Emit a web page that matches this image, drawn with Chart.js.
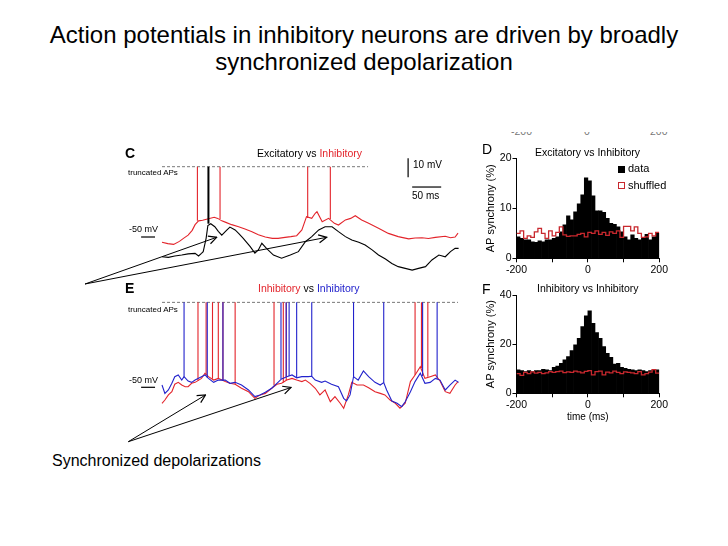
<!DOCTYPE html>
<html>
<head>
<meta charset="utf-8">
<title>Action potentials in inhibitory neurons</title>
<script src="https://cdn.jsdelivr.net/npm/chart.js"></script>
<style>
  body { margin: 0; background: #fff; font-family: "Liberation Sans", Arial, sans-serif; }
  #page { position: relative; width: 728px; height: 546px; overflow: hidden; background: #fff; }
  canvas { position: absolute; }
  .t { position: absolute; white-space: nowrap; line-height: 1; color: #000; }
  .red { color: #e3242b; }
  .blue { color: #2222cc; }
</style>
</head>
<body>
<div id="page">
  <div class="t" style="left:0;width:728px;text-align:center;top:23px;font-size:24px">Action potentials in inhibitory neurons are driven by broadly</div>
  <div class="t" style="left:0;width:728px;text-align:center;top:50px;font-size:24px">synchronized depolarization</div>

  <!-- panel C -->
  <canvas id="chartC" width="337" height="134" style="left:127px;top:151px"></canvas>
  <div class="t" style="left:125px;top:146px;font-size:14px;font-weight:bold">C</div>
  <div class="t" style="left:257px;top:148px;font-size:10.5px">Excitatory vs <span class="red">Inhibitory</span></div>
  <div class="t" style="left:128px;top:169px;font-size:8px">truncated APs</div>
  <div class="t" style="left:413px;top:160px;font-size:10px">10 mV</div>
  <div class="t" style="left:412px;top:191px;font-size:10px">50 ms</div>
  <div class="t" style="left:129px;top:225px;font-size:9px">-50 mV</div>

  <!-- panel E -->
  <canvas id="chartE" width="337" height="120" style="left:127px;top:295px"></canvas>
  <div class="t" style="left:125px;top:281px;font-size:14px;font-weight:bold">E</div>
  <div class="t" style="left:258px;top:283px;font-size:10.5px"><span class="red">Inhibitory</span> vs <span class="blue">Inhibitory</span></div>
  <div class="t" style="left:128px;top:306px;font-size:8px">truncated APs</div>
  <div class="t" style="left:129px;top:376px;font-size:9px">-50 mV</div>

  <!-- panel D -->
  <div style="position:absolute;left:480px;top:131.5px;width:200px;height:3.5px;overflow:hidden">
    <div class="t" style="left:31px;top:-5.9px;font-size:10.5px;color:#777">-200</div>
    <div class="t" style="left:104px;top:-5.9px;font-size:10.5px;color:#777">0</div>
    <div class="t" style="left:170px;top:-5.9px;font-size:10.5px;color:#777">200</div>
  </div>
  <canvas id="chartD" width="186" height="130" style="left:484px;top:150px"></canvas>
  <div class="t" style="left:482px;top:142px;font-size:14px">D</div>
  <div class="t" style="left:535px;top:147px;font-size:10.5px">Excitatory vs Inhibitory</div>
  <div class="t" style="left:618px;top:165.5px;width:7px;height:7px;background:#000"></div>
  <div class="t" style="left:628px;top:163px;font-size:11px">data</div>
  <div class="t" style="left:618px;top:181.5px;width:5px;height:5px;border:1.3px solid #c8282e"></div>
  <div class="t" style="left:628px;top:179.5px;font-size:11px">shuffled</div>

  <!-- panel F -->
  <canvas id="chartF" width="186" height="138" style="left:484px;top:287px"></canvas>
  <div class="t" style="left:482px;top:282px;font-size:14px">F</div>
  <div class="t" style="left:537px;top:283px;font-size:10.5px">Inhibitory vs Inhibitory</div>

  <div class="t" style="left:52px;top:453px;font-size:16px">Synchronized depolarizations</div>

  <svg width="728" height="546" style="position:absolute;left:0;top:0;pointer-events:none">
    <defs>
      <marker id="head" markerWidth="10" markerHeight="10" refX="9" refY="5" orient="auto" markerUnits="userSpaceOnUse">
        <path d="M1,1 L9,5 L1,9" fill="none" stroke="#000" stroke-width="1.2"/>
      </marker>
    </defs>
    <g stroke="#000" stroke-width="1" fill="none">
      <line x1="85" y1="284" x2="216.7" y2="237.3" marker-end="url(#head)"/>
      <line x1="85" y1="284" x2="326.7" y2="237.3" marker-end="url(#head)"/>
      <line x1="128.3" y1="441.7" x2="205.5" y2="395" marker-end="url(#head)"/>
      <line x1="128.3" y1="441.7" x2="291" y2="387.5" marker-end="url(#head)"/>
    </g>
  </svg>
</div>

<script>
// ---- panel C: excitatory (black) vs inhibitory (red), time in ms, Vm in mV ----
var cRedTime = [0, 10, 20, 30, 37, 45, 52, 57, 63, 70, 80, 90, 96, 103, 110, 120, 132, 143, 155, 166,
  178, 190, 200, 212, 222, 232, 241, 249, 258, 264, 267, 276, 287, 297, 304, 316, 325, 333, 344, 356,
  373, 390, 407, 425, 436, 448, 459, 471, 488, 497, 505, 510];
var cRedMv = [-52.8, -53.5, -53.9, -52.3, -50.7, -49, -46.5, -43.5, -41.5, -41.2, -40.4, -39.6, -40.2, -41.5, -42.3, -43.5, -44.6, -45.8, -47.2, -48.8,
  -50, -50.7, -50.7, -50.2, -49.8, -49.3, -46.3, -39.3, -40.2, -37.5, -36.7, -42, -40.2, -42.8, -43.7, -41, -40.2, -38.8, -41, -42.8,
  -45.4, -48.1, -49.8, -51, -50.5, -50.4, -50.8, -50.2, -49.6, -50.4, -50, -48];
var cBlackTime = [0, 11, 22, 34, 45, 57, 63, 68, 71, 76, 79, 84, 91, 97, 103, 112, 117, 126, 132, 140,
  152, 160, 166, 172, 180, 192, 206, 221, 235, 247, 258, 270, 281, 293, 304, 316, 327, 339, 350, 362,
  373, 385, 396, 407, 419, 431, 442, 454, 465, 477, 488, 497, 505, 511];
var cBlackMv = [-60.4, -60.7, -60, -59.5, -58.9, -58.6, -60, -58.6, -57.7, -50.7, -44, -43, -44.6, -47, -49, -46.3, -44.8, -46.3, -48.1, -50.7,
  -55.1, -58.5, -56.8, -53.3, -56, -59.5, -61.2, -59.5, -57.7, -52.5, -49.8, -46.3, -44.6, -44.6, -47.2, -49.8, -51.6, -52.8, -54.2, -56.8,
  -59.5, -61.6, -63.9, -65.6, -66.5, -67.4, -66.5, -65.6, -62.1, -59.5, -60.4, -57.7, -56, -56];
var cRedSpikes = [61, 100, 251, 290];
var cRedSpikeBase = [-41.5, -40.5, -40, -40.5];
var cBlackSpikes = [80];
var cBlackSpikeBase = [-43];
var cTruncMv = -13;

// ---- panel E: inhibitory (red) vs inhibitory (blue) ----
var eBlueTime = [0, 5, 11, 17, 22, 28, 34, 38, 45, 51, 57, 68, 74, 80, 89, 97, 109, 117, 126, 137,
  149, 160, 169, 178, 189, 198, 206, 215, 224, 232, 241, 252, 258, 264, 275, 281, 292, 304, 313, 318,
  324, 330, 338, 347, 356, 367, 376, 382, 387, 396, 405, 413, 419, 428, 436, 445, 453, 462, 471, 479,
  488, 496, 505, 511];
var eBlueMv = [-48.8, -53.2, -51.4, -47.9, -44.4, -43.5, -46.2, -44.4, -46.7, -47.4, -46.2, -44.4, -43.5, -45.3, -47.4, -46.2, -46.2, -47.9, -47.4, -48.8,
  -51.4, -54.9, -54, -52.6, -50.5, -47.9, -45.6, -44.4, -43.5, -45, -44.4, -44.4, -44.2, -46.2, -47.4, -46.7, -48.4, -49.7, -55.8, -57.2,
  -54, -44.4, -46.2, -41.4, -44.4, -47.4, -48.8, -47.5, -51.4, -57.2, -58.4, -60.2, -57.6, -52.3, -47, -42.6, -47.9, -47.4, -45.3, -46.2,
  -51.4, -48.8, -46.2, -47.4];
var eRedTime = [0, 5, 11, 17, 22, 28, 34, 40, 45, 51, 57, 62, 68, 74, 80, 89, 97, 109, 117, 126,
  137, 149, 160, 169, 178, 189, 198, 206, 215, 224, 232, 241, 247, 255, 264, 272, 281, 290, 298, 307,
  313, 321, 327, 336, 347, 356, 367, 376, 384, 393, 402, 410, 419, 428, 436, 445, 453, 462, 471, 479,
  488, 496, 505, 510];
var eRedMv = [-58.4, -56.7, -54, -52.3, -48.4, -47.4, -48.8, -49.7, -49.7, -47.9, -47.4, -46.5, -45.3, -42.6, -44.4, -46.2, -45.3, -47, -47.9, -48.4,
  -50.5, -52.3, -55.8, -54, -53.2, -50.5, -48.4, -47.9, -46.2, -45.3, -46.2, -47, -46.2, -47.9, -50.5, -54, -51.4, -57.6, -54.9, -58.4,
  -61, -54, -47.4, -48.8, -48.8, -50.2, -52.3, -53.2, -54, -56.7, -58.4, -61, -58.4, -47, -43.5, -39.2, -45.3, -44.4, -43.5, -46.7,
  -52.3, -53.2, -48.8, -47];
var eBlueSpikes = [38, 78, 105, 205, 214, 219, 232, 258, 330, 382, 449, 474];
var eBlueSpikeBase = [-44.4, -45, -46.5, -45.6, -44.4, -44, -45, -44.2, -44.4, -47.5, -44, -45.5];
var eRedSpikes = [62, 76, 87, 97, 105, 126, 193, 209, 214, 436, 447, 458];
var eRedSpikeBase = [-46.5, -43.5, -45.5, -45.3, -46.5, -48.4, -49, -47.5, -46.2, -43.5, -40, -44.5];
var eTruncMv = -5.3;

// scale bars
var barMv = 10;
var barMs = 50;

// ---- panels D and F: AP synchrony histograms, 10 ms bins from -200 to 200 ----
var binStart = [-200, -190, -180, -170, -160, -150, -140, -130, -120, -110, -100, -90, -80, -70, -60, -50, -40, -30, -20, -10,
  0, 10, 20, 30, 40, 50, 60, 70, 80, 90, 100, 110, 120, 130, 140, 150, 160, 170, 180, 190];
var binWidth = 10;
var dData = [4.3, 4.0, 3.7, 3.7, 3.3, 3.2, 3.5, 3.3, 3.7, 3.7, 4.0, 4.3, 5.3, 6.7, 8.5, 7.7, 9.3, 10.9, 12.7, 16.1,
  15.5, 12.5, 9.5, 9.5, 9.2, 8.0, 7.0, 6.8, 6.3, 5.3, 4.3, 3.7, 4.7, 4.0, 3.7, 4.0, 4.8, 3.7, 4.3, 5.0];
var dShuffled = [5.0, 5.5, 4.0, 4.5, 4.2, 5.3, 6.0, 5.0, 4.0, 5.5, 4.5, 5.2, 6.3, 4.7, 4.4, 4.5, 4.5, 4.8, 5.0, 4.3,
  5.2, 5.0, 5.5, 4.8, 5.2, 4.6, 5.3, 5.0, 5.5, 4.2, 6.4, 6.4, 5.5, 6.3, 5.0, 4.2, 4.3, 5.0, 4.5, 5.2];
var fData = [9.5, 9.2, 8.8, 9.2, 8.8, 9.2, 9.2, 9.8, 9.5, 9.2, 10.6, 11.1, 12.2, 13.6, 14.9, 17.4, 19.7, 22.4, 27.1, 31.5,
  33.6, 28.5, 24.7, 22.4, 19.0, 16.3, 14.6, 11.9, 12.2, 10.6, 10.2, 9.8, 9.5, 9.2, 9.5, 9.2, 8.8, 9.2, 9.5, 9.5];
var fShuffled = [8.0, 7.3, 8.5, 8.0, 8.7, 8.2, 8.5, 8.0, 8.3, 8.8, 8.5, 8.8, 9.0, 8.4, 8.7, 8.5, 9.0, 8.7, 8.3, 8.9,
  9.2, 7.5, 8.8, 9.0, 7.5, 8.6, 8.3, 9.0, 8.5, 8.0, 8.7, 8.5, 8.3, 8.0, 8.8, 7.5, 8.0, 8.6, 9.6, 8.2];

var RED = '#e3242b';
var BLUE = '#2222cc';
var SHUF = '#c8282e';

Chart.defaults.font.family = '"Liberation Sans", Arial, sans-serif';
Chart.defaults.color = '#000';

function pts(times, values) {
  return times.map(function (t, i) { return { x: t, y: values[i] }; });
}

function spikePts(times, bases, top) {
  var out = [];
  times.forEach(function (t, i) {
    out.push({ x: t, y: bases[i] }, { x: t, y: top }, { x: t, y: null });
  });
  return out;
}

function line(data, color, width, order, dash) {
  return {
    data: data, borderColor: color, borderWidth: width, order: order,
    borderDash: dash || [], pointRadius: 0, tension: 0, fill: false, spanGaps: false
  };
}

function traceChart(id, yMin, yMax, datasets) {
  return new Chart(document.getElementById(id), {
    type: 'line',
    data: { datasets: datasets },
    options: {
      responsive: false, animation: false, events: [],
      layout: { padding: 0 },
      plugins: { legend: { display: false }, tooltip: { enabled: false } },
      scales: {
        x: { type: 'linear', display: false, min: -60.3, max: 520.3 },
        y: { type: 'linear', display: false, min: yMin, max: yMax }
      }
    }
  });
}

traceChart('chartC', -75.26, -4.74, [
  line([{ x: 0, y: cTruncMv }, { x: 355, y: cTruncMv }], '#555', 0.8, 5, [3, 2]),
  line(pts(cRedTime, cRedMv), RED, 1.1, 3),
  line(spikePts(cRedSpikes, cRedSpikeBase, cTruncMv), RED, 1.1, 3),
  line(pts(cBlackTime, cBlackMv), '#000', 1.1, 1),
  line(spikePts(cBlackSpikes, cBlackSpikeBase, cTruncMv), '#000', 2, 1),
  // scale bars and -50 mV marker
  line([{ x: 424, y: -8.5 }, { x: 424, y: -8.5 - barMv }], '#000', 1.2, 0),
  line([{ x: 431, y: -23.7 }, { x: 431 + barMs, y: -23.7 }], '#000', 1.2, 0),
  line([{ x: -36, y: -50 }, { x: -12, y: -50 }], '#000', 1.2, 0)
]);

traceChart('chartE', -64.58, -1.42, [
  line([{ x: 0, y: eTruncMv }, { x: 510, y: eTruncMv }], '#555', 0.8, 5, [3, 2]),
  line(pts(eRedTime, eRedMv), RED, 1.1, 3),
  line(spikePts(eRedSpikes, eRedSpikeBase, eTruncMv), RED, 1.1, 3),
  line(pts(eBlueTime, eBlueMv), BLUE, 1.1, 1),
  line(spikePts(eBlueSpikes, eBlueSpikeBase, eTruncMv), BLUE, 1.1, 1),
  line([{ x: -36, y: -50 }, { x: -12, y: -50 }], '#000', 1.2, 0)
]);

function histChart(id, bars, shuffled, yMax, yStep, xTitle, xAxisH, padTop) {
  var barPts = binStart.map(function (b, i) { return { x: b + binWidth / 2, y: bars[i] }; });
  var stepPts = binStart.map(function (b, i) { return { x: b, y: shuffled[i] }; });
  stepPts.push({ x: binStart[binStart.length - 1] + binWidth, y: shuffled[shuffled.length - 1] });
  return new Chart(document.getElementById(id), {
    type: 'bar',
    data: {
      datasets: [
        { type: 'line', data: stepPts, stepped: true, borderColor: SHUF, borderWidth: 1.3,
          pointRadius: 0, fill: false, order: 0 },
        { type: 'bar', data: barPts, backgroundColor: '#000', borderWidth: 0,
          barPercentage: 1, categoryPercentage: 1, order: 1 }
      ]
    },
    options: {
      responsive: false, animation: false, events: [],
      layout: { padding: { top: padTop, right: 7.7, left: 0, bottom: 0 } },
      plugins: { legend: { display: false }, tooltip: { enabled: false } },
      scales: {
        x: {
          type: 'linear', min: -200, max: 200, offset: false,
          grid: { offset: false, drawOnChartArea: false, tickLength: 4, color: '#000' },
          border: { color: '#000', width: 1 },
          ticks: { stepSize: 100, autoSkip: false, maxRotation: 0, padding: 2, font: { size: 10.5 },
            callback: function (v) { return v % 200 === 0 ? String(v) : ''; } },
          title: { display: !!xTitle, text: xTitle, font: { size: 10 }, padding: { top: 0, bottom: 2 } },
          afterFit: function (s) { s.height = xAxisH; }
        },
        y: {
          min: 0, max: yMax,
          grid: { drawOnChartArea: false, tickLength: 4, color: '#000' },
          border: { color: '#000', width: 1 },
          ticks: { stepSize: yStep, padding: 1, font: { size: 10.5 } },
          title: { display: true, text: 'AP synchrony (%)', font: { size: 11 }, padding: 0 },
          afterFit: function (s) { s.width = 32.5; }
        }
      }
    }
  });
}

histChart('chartD', dData, dShuffled, 20, 10, '', 21.7, 8.3);
histChart('chartF', fData, fShuffled, 40, 20, 'time (ms)', 31.7, 8);
</script>
</body>
</html>
